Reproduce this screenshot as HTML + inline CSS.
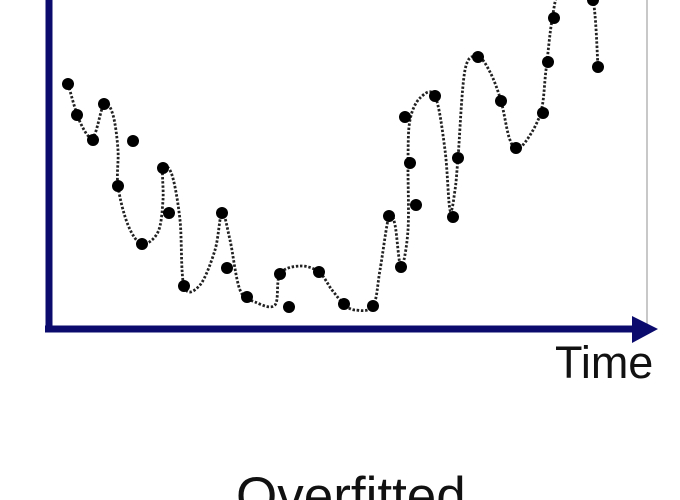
<!DOCTYPE html>
<html><head><meta charset="utf-8"><style>
html,body{margin:0;padding:0;background:#fff;width:680px;height:500px;overflow:hidden}
svg{display:block;overflow:hidden}
text{font-family:"Liberation Sans",sans-serif;fill:#111}
</style></head><body>
<svg id="chart" width="680" height="500">
<defs><clipPath id="frame"><rect x="0" y="0" width="680" height="500"/></clipPath></defs>
<g clip-path="url(#frame)">
<line x1="647" y1="0" x2="647" y2="326" stroke="#c8c8c8" stroke-width="2"/>
<g id="curve-layer"></g>
<g id="dot-layer"></g>
<line x1="49" y1="0" x2="49" y2="332" stroke="#0b0b6e" stroke-width="7"/>
<line x1="45" y1="329" x2="636" y2="329" stroke="#0b0b6e" stroke-width="7"/>
<polygon points="632,316 658,329 632,343" fill="#0b0b6e"/>
<text x="555" y="378" font-size="45">Time</text>
<text x="236" y="514" font-size="53">Overfitted</text>
</g>
</svg>
<script>
const pointTimes = [21,30,46,57,86,71,116,122,95,175,137,180,200,233,242,272,297,326,342,354,358,363,369,388,406,411,431,454,469,496,501,507,546,551];
const pointValues = [244,213,188,224,187,142,160,115,84,115,42,60,31,54,21,56,24,22,112,61,211,165,123,232,111,170,271,227,180,215,266,310,328,261];
const curveTimes = [21,33,46,57,66,71,71,81,95,111,116,116,125,133,137,153,168,175,183,193,208,228,233,253,272,285,297,308,326,333,342,348,354,361,361,363,373,388,398,403,408,411,418,431,443,454,463,473,493,499,505,513,533,546,551];
const curveValues = [244,206,191,224,213,178,142,103,84,96,128,160,153,108,42,43,78,115,88,38,26,23,54,62,56,38,24,18,22,58,112,103,61,98,168,208,230,232,178,118,138,170,258,271,256,227,188,180,213,258,308,338,338,328,261];
const xScale = t => 47 + t;
const yScale = v => 328 - v;
const NS = "http://www.w3.org/2000/svg";
const pts = curveTimes.map((t,i)=>[xScale(t), yScale(curveValues[i])]);
let d = "M" + pts[0][0] + "," + pts[0][1];
for (let i=0;i<pts.length-1;i++){
  const p0=pts[Math.max(0,i-1)], p1=pts[i], p2=pts[i+1], p3=pts[Math.min(pts.length-1,i+2)];
  const c1=[p1[0]+(p2[0]-p0[0])/6, p1[1]+(p2[1]-p0[1])/6];
  const c2=[p2[0]-(p3[0]-p1[0])/6, p2[1]-(p3[1]-p1[1])/6];
  d += " C"+c1[0].toFixed(1)+","+c1[1].toFixed(1)+" "+c2[0].toFixed(1)+","+c2[1].toFixed(1)+" "+p2[0]+","+p2[1];
}
const path = document.createElementNS(NS,"path");
path.setAttribute("d", d);
path.setAttribute("fill","none");
path.setAttribute("stroke","#222");
path.setAttribute("stroke-width","2.8");
path.setAttribute("stroke-dasharray","2.4 1.8");


document.getElementById("curve-layer").appendChild(path);
const dl = document.getElementById("dot-layer");
pointTimes.forEach((t,i)=>{
  const c = document.createElementNS(NS,"circle");
  c.setAttribute("cx", xScale(t));
  c.setAttribute("cy", yScale(pointValues[i]));
  c.setAttribute("r", "6");
  c.setAttribute("fill", "#000");
  
  
  dl.appendChild(c);
});
</script>
</body></html>
